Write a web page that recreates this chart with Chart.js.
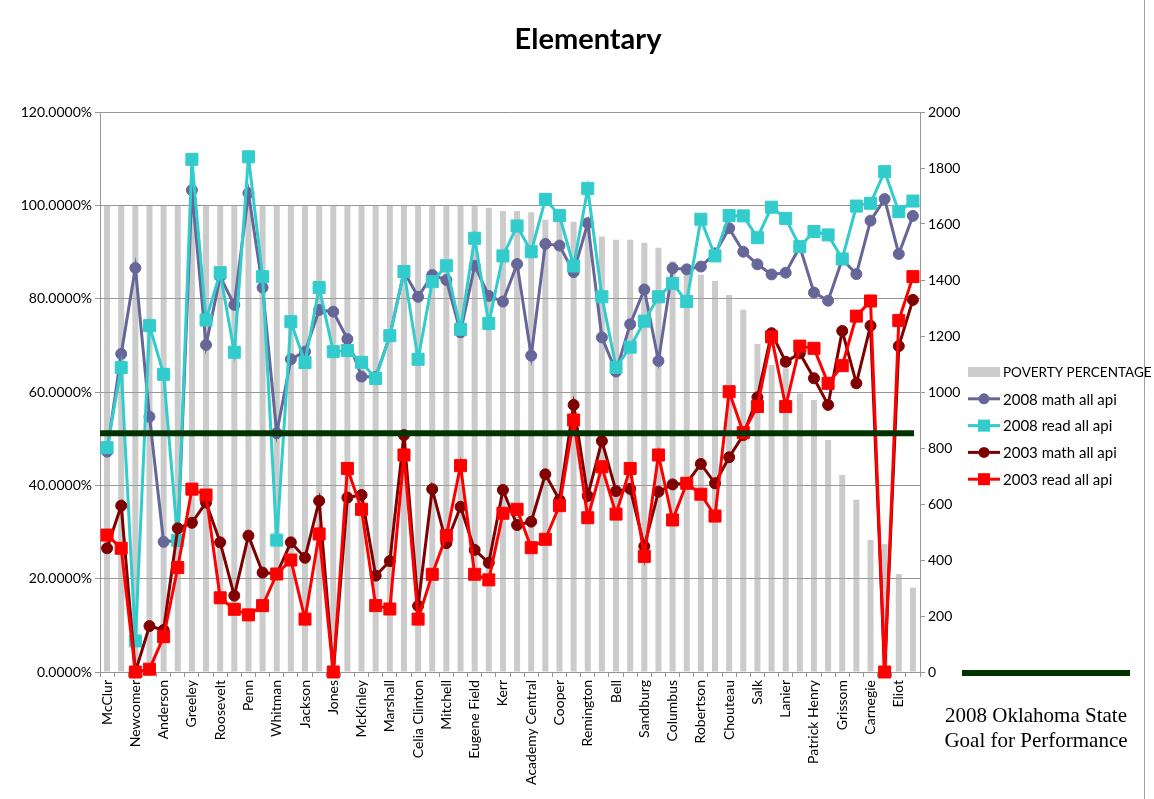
<!DOCTYPE html>
<html>
<head>
<meta charset="utf-8">
<title>Elementary</title>
<script src="https://cdn.jsdelivr.net/npm/chart.js"></script>
<style>
  body { margin: 0; background: #fff; }
  #wrap { width: 1154px; height: 799px; }
</style>
</head>
<body>
<div id="wrap"><canvas id="chart" width="1154" height="799"></canvas></div>
<script>
// only every other school name is printed on the axis
const schools = [
  "McClur", "", "Newcomer", "", "Anderson", "", "Greeley", "", "Roosevelt", "",
  "Penn", "", "Whitman", "", "Jackson", "", "Jones", "", "McKinley", "",
  "Marshall", "", "Celia Clinton", "", "Mitchell", "", "Eugene Field", "", "Kerr", "",
  "Academy Central", "", "Cooper", "", "Remington", "", "Bell", "", "Sandburg", "",
  "Columbus", "", "Robertson", "", "Chouteau", "", "Salk", "", "Lanier", "",
  "Patrick Henry", "", "Grissom", "", "Carnegie", "", "Eliot", ""
];

const poverty = [
  1, 1, 1, 1, 1, 1, 1, 1, 1, 1,
  1, 1, 1, 1, 1, 1, 1, 1, 1, 1,
  1, 1, 1, 1, 1, 1, 1, 0.995, 0.988, 0.988,
  0.985, 0.969, 0.975, 0.965, 0.955, 0.933, 0.926, 0.926, 0.92, 0.909,
  0.88, 0.87, 0.851, 0.838, 0.808, 0.776, 0.703, 0.658, 0.651, 0.597,
  0.583, 0.497, 0.422, 0.369, 0.283, 0.274, 0.21, 0.181
];

const math2008 = [
  787, 1136, 1443, 912, 465, 470, 1721, 1168, 1412, 1311,
  1710, 1373, 853, 1117, 1144, 1293, 1287, 1189, 1055, 1054,
  1201, 1430, 1340, 1418, 1400, 1213, 1451, 1343, 1323, 1457,
  1130, 1529, 1523, 1428, 1603, 1195, 1073, 1242, 1366, 1111,
  1442, 1438, 1448, 1495, 1585, 1501, 1456, 1420, 1426, 1519,
  1355, 1326, 1474, 1421, 1612, 1689, 1493, 1629
];

const read2008 = [
  801, 1087, 111, 1237, 1063, 470, 1831, 1257, 1426, 1142,
  1840, 1412, 471, 1251, 1105, 1373, 1144, 1148, 1106, 1048,
  1201, 1430, 1117, 1394, 1451, 1224, 1549, 1245, 1486, 1593,
  1501, 1688, 1630, 1450, 1727, 1340, 1088, 1160, 1253, 1340,
  1388, 1323, 1617, 1486, 1630, 1629, 1551, 1660, 1620, 1519,
  1573, 1561, 1475, 1664, 1674, 1787, 1644, 1682
];

const math2003 = [
  442, 594, 0, 164, 150, 513, 533, 605, 463, 273,
  487, 355, 350, 463, 408, 611, 0, 623, 632, 344,
  396, 846, 236, 653, 460, 590, 436, 390, 650, 525,
  537, 706, 614, 954, 629, 825, 646, 654, 449, 644,
  670, 675, 743, 674, 767, 846, 981, 1210, 1108, 1138,
  1049, 954, 1218, 1031, 1237, 0, 1164, 1329
];

const read2003 = [
  489, 442, 0, 10, 126, 373, 653, 632, 265, 224,
  204, 237, 350, 400, 189, 493, 0, 727, 581, 237,
  225, 775, 189, 349, 487, 737, 349, 329, 567, 581,
  444, 474, 594, 900, 551, 733, 564, 727, 413, 775,
  543, 674, 635, 557, 1001, 855, 948, 1197, 948, 1164,
  1156, 1031, 1094, 1271, 1325, 0, 1255, 1412
];

const goalScore = 853;
const goalText = ["2008 Oklahoma State", "Goal for Performance"];

const gridGrey = "#969696";

// title, side legend and the state goal line
const extras = {
  id: "extras",
  afterDatasetsDraw(chart) {
    const c = chart.ctx;
    const area = chart.chartArea;
    const gy = chart.scales.y1.getPixelForValue(goalScore);
    c.save();
    c.strokeStyle = "#003300";
    c.lineWidth = 6;
    c.beginPath();
    c.moveTo(area.left, gy);
    c.lineTo(area.right - 6, gy);
    c.stroke();
    c.restore();
  },
  afterDraw(chart) {
    const c = chart.ctx;
    const area = chart.chartArea;
    c.save();

    c.fillStyle = "#000";
    c.font = "bold 29px Lato";
    c.textAlign = "center";
    c.textBaseline = "middle";
    c.fillText("Elementary", 588, 40);

    // legend
    const lx = area.right + 48;
    let ly = 372;
    c.textAlign = "left";
    chart.data.datasets.forEach((ds) => {
      if (ds.type === "line") {
        c.strokeStyle = ds.borderColor;
        c.lineWidth = 3;
        c.beginPath();
        c.moveTo(lx, ly);
        c.lineTo(lx + 32, ly);
        c.stroke();
        c.fillStyle = ds.borderColor;
        if (ds.pointStyle === "rect") {
          c.fillRect(lx + 10, ly - 6, 12, 12);
        } else {
          c.beginPath();
          c.arc(lx + 16, ly, 5.5, 0, Math.PI * 2);
          c.fill();
        }
        c.font = "15px Lato";
      } else {
        c.fillStyle = "#cccccc";
        c.fillRect(lx, ly - 5, 32, 10);
        c.font = "13.5px Lato";
      }
      c.fillStyle = "#000";
      c.fillText(ds.label, lx + 35, ly + 1);
      ly += 26.8;
    });

    // goal legend
    c.strokeStyle = "#003300";
    c.lineWidth = 6;
    c.beginPath();
    c.moveTo(962, area.bottom + 1);
    c.lineTo(1130, area.bottom + 1);
    c.stroke();
    c.fillStyle = "#000";
    c.font = "21px 'Liberation Serif'";
    c.textAlign = "center";
    c.fillText(goalText[0], 1036, 716);
    c.fillText(goalText[1], 1036, 741);

    c.strokeStyle = "#a0a0a0";
    c.lineWidth = 1;
    c.beginPath();
    c.moveTo(1144.5, 0);
    c.lineTo(1144.5, 799);
    c.stroke();
    c.restore();
  }
};

Chart.defaults.font.family = "Lato";
Chart.defaults.font.size = 14;
Chart.defaults.color = "#000";

const ctx = document.getElementById("chart").getContext("2d");
new Chart(ctx, {
  type: "bar",
  data: {
    labels: schools,
    datasets: [
      {
        label: "POVERTY PERCENTAGE",
        data: poverty,
        yAxisID: "y",
        backgroundColor: "rgba(160,160,160,0.55)",
        categoryPercentage: 0.5,
        barPercentage: 0.85,
        order: 10
      },
      {
        type: "line",
        label: "2008 math all api",
        data: math2008,
        yAxisID: "y1",
        borderColor: "#666699",
        backgroundColor: "#666699",
        borderWidth: 3,
        pointStyle: "circle",
        pointRadius: 5.5,
        pointBorderWidth: 1,
        clip: false,
        order: 4
      },
      {
        type: "line",
        label: "2008 read all api",
        data: read2008,
        yAxisID: "y1",
        borderColor: "#33cccc",
        backgroundColor: "#33cccc",
        borderWidth: 3,
        pointStyle: "rect",
        pointRadius: 8.5,
        pointBorderWidth: 1,
        clip: false,
        order: 3
      },
      {
        type: "line",
        label: "2003 math all api",
        data: math2003,
        yAxisID: "y1",
        borderColor: "#800000",
        backgroundColor: "#800000",
        borderWidth: 3,
        pointStyle: "circle",
        pointRadius: 5.5,
        pointBorderWidth: 1,
        clip: false,
        order: 2
      },
      {
        type: "line",
        label: "2003 read all api",
        data: read2003,
        yAxisID: "y1",
        borderColor: "#ff0000",
        backgroundColor: "#ff0000",
        borderWidth: 3,
        pointStyle: "rect",
        pointRadius: 8.5,
        pointBorderWidth: 1,
        clip: false,
        order: 1
      }
    ]
  },
  options: {
    responsive: false,
    animation: false,
    events: [],
    layout: { padding: { top: 112, left: 0, right: 189, bottom: 0 } },
    plugins: {
      legend: { display: false },
      title: { display: false },
      tooltip: { enabled: false }
    },
    scales: {
      x: {
        afterFit: (s) => { s.height = 127; },
        grid: { drawOnChartArea: false, tickLength: 5, color: gridGrey },
        border: { color: gridGrey },
        ticks: { autoSkip: false, minRotation: 90, maxRotation: 90, padding: 3 }
      },
      y: {
        position: "left",
        min: 0,
        max: 1.2,
        afterFit: (s) => { s.width = 100; },
        grid: { color: gridGrey, tickLength: 5 },
        border: { color: gridGrey },
        ticks: {
          stepSize: 0.2,
          padding: 3,
          callback: (v) => (v * 100).toFixed(4) + "%"
        }
      },
      y1: {
        position: "right",
        min: 0,
        max: 2000,
        afterFit: (s) => { s.width = 45; },
        grid: { drawOnChartArea: false, tickLength: 5, color: gridGrey },
        border: { color: gridGrey },
        ticks: { stepSize: 200, padding: 3, callback: (v) => String(v) }
      }
    }
  },
  plugins: [extras]
});
</script>
</body>
</html>
